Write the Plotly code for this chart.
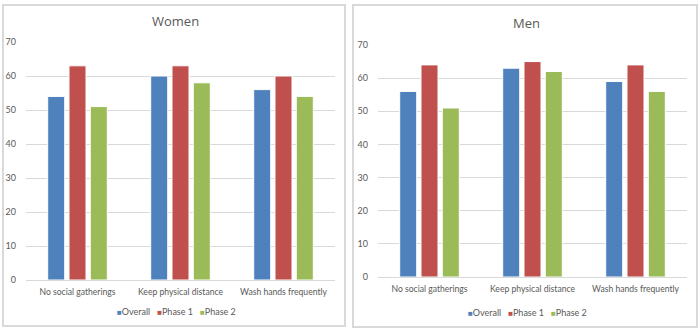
import plotly.graph_objects as go

categories = ["No social gatherings", "Keep physical distance", "Wash hands frequently"]
series_names = ["Overall", "Phase 1", "Phase 2"]
colors = ["#4F81BD", "#C0504D", "#9BBB59"]

women_overall = [54, 60, 56]
women_phase1 = [63, 63, 60]
women_phase2 = [51, 58, 54]

men_overall = [56, 63, 59]
men_phase1 = [64, 65, 64]
men_phase2 = [51, 62, 56]

y_ticks = [0, 10, 20, 30, 40, 50, 60, 70]

W, H = 700, 333
FONT = "Lato"
GRAY = "#595959"

fig = go.Figure()

women = [women_overall, women_phase1, women_phase2]
men = [men_overall, men_phase1, men_phase2]

for i, name in enumerate(series_names):
    fig.add_trace(go.Bar(x=categories, y=women[i], name=name, marker=dict(color=colors[i], line=dict(color="white", width=1)),
                         xaxis="x", yaxis="y", showlegend=False))
for i, name in enumerate(series_names):
    fig.add_trace(go.Bar(x=categories, y=men[i], name=name, marker=dict(color=colors[i], line=dict(color="white", width=1)),
                         xaxis="x2", yaxis="y2", showlegend=False))

def px_x(x):
    return x / W

def px_y(y):
    return 1 - y / H

axis_common_y = dict(range=[0, 70], tickvals=y_ticks, showgrid=True, gridcolor="#D9D9D9", gridwidth=1,
                     zeroline=False, showline=False, tickfont=dict(family=FONT, size=9, color=GRAY),
                     ticks="", ticklabelstandoff=9, fixedrange=True, automargin=False)
axis_common_x = dict(showgrid=False, zeroline=False, showline=True, linecolor="#D9D9D9", linewidth=1,
                     tickfont=dict(family=FONT, size=8.6, color=GRAY), ticks="", ticklabelstandoff=4,
                     fixedrange=True, automargin=False)

fig.update_layout(
    template="none",
    width=W, height=H,
    margin=dict(l=0, r=0, t=0, b=0, pad=0),
    paper_bgcolor="white", plot_bgcolor="white",
    barmode="group", bargap=0.38, bargroupgap=0.2,
    xaxis=dict(domain=[px_x(26), px_x(335)], anchor="y", **axis_common_x),
    yaxis=dict(domain=[px_y(280), px_y(42)], anchor="x", **axis_common_y),
    xaxis2=dict(domain=[px_x(378), px_x(687)], anchor="y2", **axis_common_x),
    yaxis2=dict(domain=[px_y(277), px_y(45)], anchor="x2", **axis_common_y),
    showlegend=False,
)

# panel borders
for (x0, y0, x1, y1) in [(3, 5, 345, 326), (353, 5, 697, 327)]:
    fig.add_shape(type="rect", xref="paper", yref="paper",
                  x0=px_x(x0), x1=px_x(x1), y0=px_y(y1), y1=px_y(y0),
                  line=dict(color="#D9D9D9", width=2), fillcolor="rgba(0,0,0,0)", layer="below")

# titles
fig.add_annotation(text="Women", xref="paper", yref="paper", x=px_x(175), y=px_y(21), showarrow=False,
                   font=dict(family="Open Sans", size=13, color=GRAY), xanchor="center", yanchor="middle")
fig.add_annotation(text="Men", xref="paper", yref="paper", x=px_x(526), y=px_y(23), showarrow=False,
                   font=dict(family="Open Sans", size=13, color=GRAY), xanchor="center", yanchor="middle")

# legends
legend_text = "&nbsp;&nbsp;&nbsp;".join(
    f"<span style='color:{c};font-size:8px'>■</span>{n}" for n, c in zip(series_names, colors))
for cx, cy in [(176, 311), (527, 312)]:
    fig.add_annotation(text=legend_text, xref="paper", yref="paper", x=px_x(cx), y=px_y(cy), showarrow=False,
                       font=dict(family=FONT, size=9, color=GRAY), xanchor="center", yanchor="middle")

fig.write_html("out.html")
